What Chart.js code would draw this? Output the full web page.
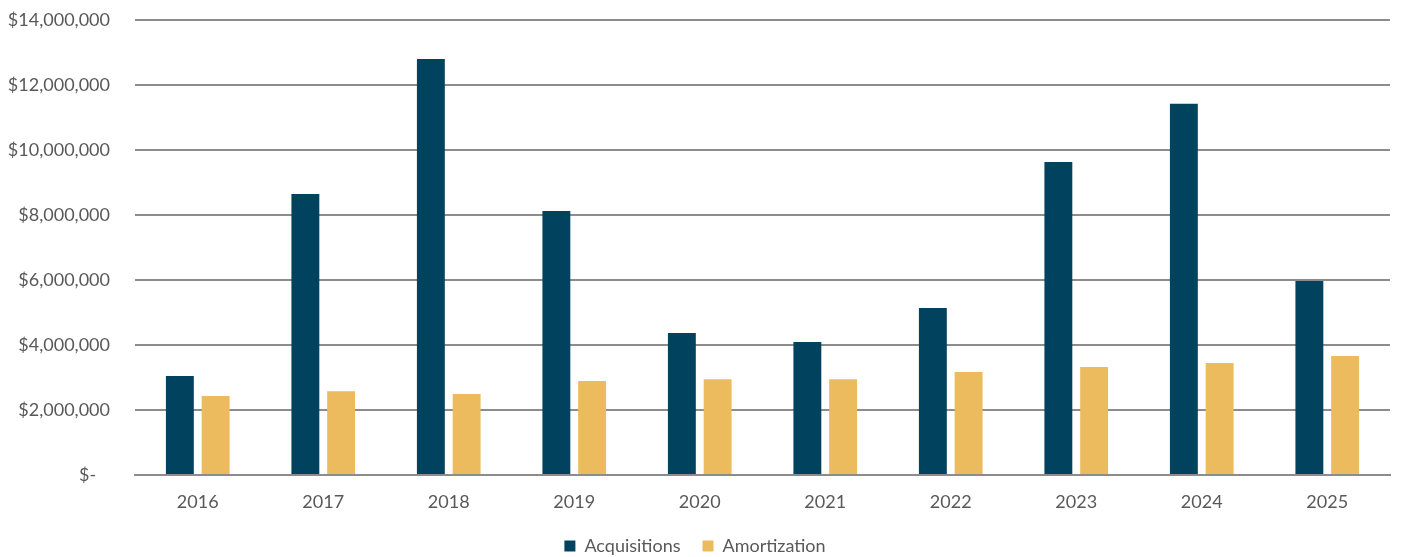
<!DOCTYPE html>
<html>
<head>
<meta charset="utf-8">
<script src="https://cdn.jsdelivr.net/npm/chart.js@4"></script>
<style>
    html, body { margin: 0; padding: 0; background: #fff; }
    #wrap { width: 1401px; height: 557px; }
</style>
</head>
<body>
<div id="wrap"><canvas id="capitalChart" width="1401" height="557"></canvas></div>
<script>
const years = ["2016", "2017", "2018", "2019", "2020", "2021", "2022", "2023", "2024", "2025"];
const acquisitions = [3050000, 8650000, 12800000, 8120000, 4370000, 4090000, 5140000, 9630000, 11420000, 5970000];
const amortization = [2430000, 2580000, 2490000, 2890000, 2950000, 2950000, 3170000, 3320000, 3450000, 3660000];
const yTicks = [0, 2000000, 4000000, 6000000, 8000000, 10000000, 12000000, 14000000];

document.addEventListener("DOMContentLoaded", () => {
    const ctx = document.getElementById("capitalChart").getContext("2d");

    Chart.defaults.font.family = "Lato, 'Open Sans', sans-serif";
    Chart.defaults.font.size = 18;
    Chart.defaults.color = "#595959";

    const data = {
        labels: years,
        datasets: [
            {
                label: "Acquisitions",
                data: acquisitions,
                backgroundColor: "#01425f"
            },
            {
                label: "Amortization",
                data: amortization,
                backgroundColor: "#ebbb5d"
            }
        ]
    };

    const options = {
        responsive: false,
        animation: false,
        layout: {
            // legend sits low, close to the bottom edge
            padding: { top: 20, right: 11, left: 0, bottom: -8 }
        },
        categoryPercentage: 0.57,
        barPercentage: 0.78,
        plugins: {
            legend: {
                position: "bottom",
                labels: {
                    boxWidth: 11,
                    boxHeight: 11,
                    padding: 22,
                    color: "#595959"
                }
            },
            tooltip: { enabled: false }
        },
        scales: {
            x: {
                grid: { display: false, drawTicks: false },
                border: { color: "#8c8c8c", width: 2 },
                ticks: { padding: 16, color: "#595959" },
                afterFit: (scale) => {
                    scale.height = 40;
                }
            },
            y: {
                min: 0,
                max: 14000000,
                afterBuildTicks: (scale) => {
                    scale.ticks = yTicks.map(v => ({ value: v }));
                },
                afterFit: (scale) => {
                    // fixed gutter for the dollar labels; no extra space above the top line
                    scale.width = 135;
                    scale.paddingTop = 0;
                    scale.paddingBottom = 0;
                },
                grid: { color: "#8c8c8c", lineWidth: 2, drawTicks: false },
                border: { display: false },
                ticks: {
                    padding: 25,
                    color: "#595959",
                    callback: (v) => v === 0 ? "$-   " : "$" + v.toLocaleString("en-US")
                }
            }
        }
    };

    new Chart(ctx, {
        type: "bar",
        data: data,
        options: options
    });
});
</script>
</body>
</html>
